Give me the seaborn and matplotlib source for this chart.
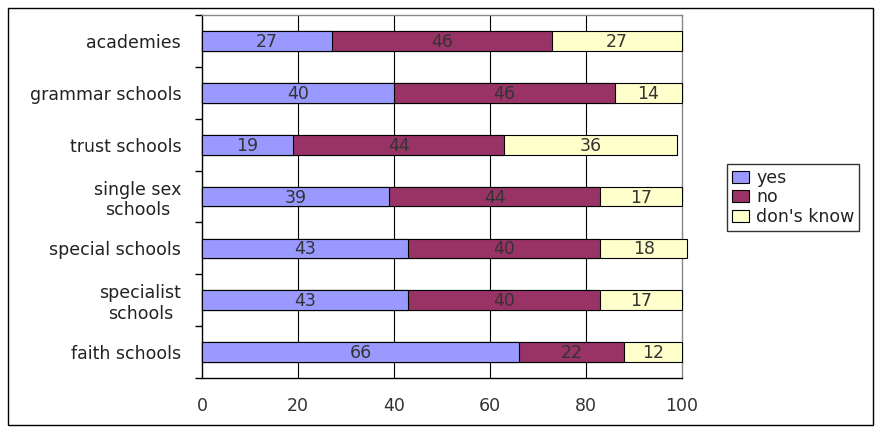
import matplotlib
matplotlib.use("Agg")
import matplotlib.pyplot as plt
import seaborn as sns
import numpy as np
import pandas as pd
from matplotlib.patches import Patch, Rectangle

categories = ["academies", "grammar schools", "trust schools", "single sex\nschools",
              "special schools", "specialist\nschools", "faith schools"]
yes = [27, 40, 19, 39, 43, 43, 66]
no = [46, 46, 44, 44, 40, 40, 22]
dont_know = [27, 14, 36, 17, 18, 17, 12]
series_names = ["yes", "no", "don's know"]
x_ticks = [0, 20, 40, 60, 80, 100]

sns.set_theme(style="white")
plt.rcParams['font.family'] = ['DejaVu Sans']

colors = ["#9999FF", "#993366", "#FFFFCC"]

fig = plt.figure(figsize=(8.83, 4.34), dpi=100)
ax = fig.add_axes([0.2288, 0.129, 0.7724 - 0.2288, 0.9654 - 0.129])

df = pd.DataFrame({"cat": categories, "yes": yes, "no": no, "dk": dont_know})
df["c1"] = df["yes"]
df["c2"] = df["yes"] + df["no"]
df["c3"] = df["c2"] + df["dk"]

for col, c in zip(["c3", "c2", "c1"], colors[::-1]):
    sns.barplot(data=df, x=col, y="cat", orient="h", color=c, edgecolor="black",
                linewidth=0.8, width=0.38, ax=ax, saturation=1, zorder=3)
for p in ax.patches:
    p.set_clip_on(False)

for i, row in df.iterrows():
    starts = [0, row["c1"], row["c2"]]
    vals = [row["yes"], row["no"], row["dk"]]
    for s, v in zip(starts, vals):
        ax.text(s + v / 2, i + 0.02, str(v), ha="center", va="center", fontsize=12.5, zorder=5,
                color="#333333")

ax.set_xlim(0, 100)
ax.set_ylim(6.5, -0.5)
ax.set_xticks(x_ticks)
ax.set_xticklabels([str(t) for t in x_ticks], fontsize=12.5, color="#333333")
ax.tick_params(axis="x", length=0, pad=14)
ax.set_yticks(range(len(categories)))
ax.set_yticklabels(categories, fontsize=12.5, multialignment="center", color="#222222")
ax.tick_params(axis="y", which="major", length=0, pad=15)
ax.set_yticks(np.arange(-0.5, 7.0, 1.0), minor=True)
ax.tick_params(axis="y", which="minor", length=5, width=1, color="black", direction="out", left=True)
ax.set_xlabel("")
ax.set_ylabel("")
for x in [20, 40, 60, 80]:
    ax.axvline(x, color="black", linewidth=0.8, zorder=1)
for side in ["left", "bottom"]:
    ax.spines[side].set_color("black")
    ax.spines[side].set_linewidth(1)
for side in ["top", "right"]:
    ax.spines[side].set_color("#888888")
    ax.spines[side].set_linewidth(1)

handles = [Patch(facecolor=c, edgecolor="black", linewidth=0.8) for c in colors]
leg = fig.legend(handles, series_names, loc="center left",
                 bbox_to_anchor=(0.814, 0.545), frameon=True, fontsize=12.5,
                 handlelength=1.0, handleheight=0.7, handletextpad=0.4,
                 borderpad=0.25, labelspacing=0.1, fancybox=False)
leg.get_frame().set_edgecolor("black")
leg.get_frame().set_linewidth(1)
for t in leg.get_texts():
    t.set_color("#222222")

fig.add_artist(Rectangle((0.009, 0.02), 0.98, 0.962, transform=fig.transFigure,
                         fill=False, edgecolor="black", linewidth=1))

fig.savefig("out.png", dpi=100)
